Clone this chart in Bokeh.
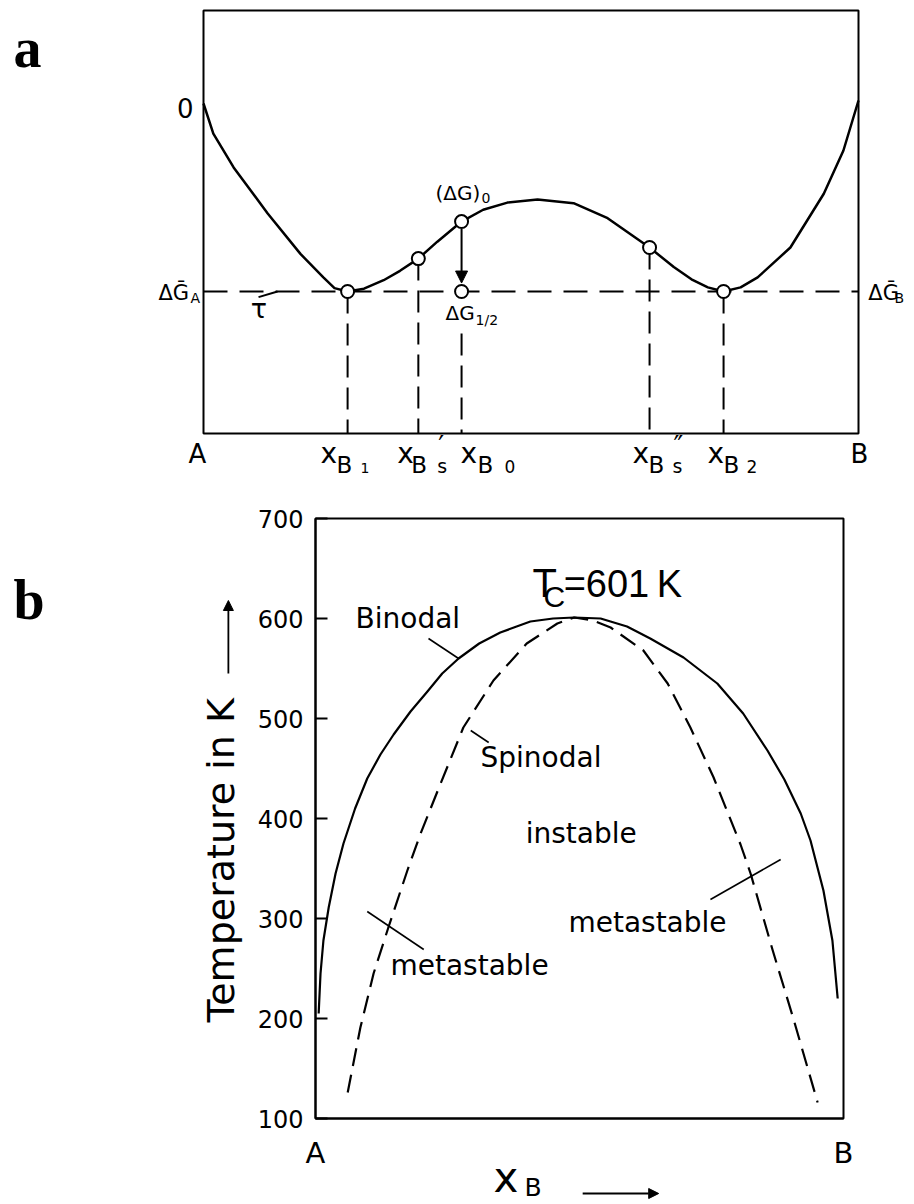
from bokeh.plotting import figure
from bokeh.models import Range1d, Label, Arrow, NormalHead, FixedTicker, LinearAxis
from bokeh.layouts import column
from bokeh.embed import file_html
from bokeh.resources import INLINE

FONT = "DejaVu Sans"
SERIF = "Liberation Serif"
NARROW = "Liberation Sans"

# ---------------- panel a: free enthalpy of mixing vs composition ----------------
g_x = [0.000, 0.015, 0.046, 0.098, 0.148, 0.183, 0.200, 0.220, 0.245, 0.275,
       0.300, 0.328, 0.357, 0.394, 0.427, 0.464, 0.510, 0.565, 0.617, 0.681,
       0.718, 0.745, 0.770, 0.794, 0.820, 0.846, 0.896, 0.947, 0.977, 1.000]
g_val = [0.000, -0.160, -0.340, -0.585, -0.800, -0.925, -0.982, -1.000, -0.985, -0.940,
         -0.890, -0.825, -0.735, -0.628, -0.565, -0.527, -0.510, -0.530, -0.610, -0.766,
         -0.870, -0.935, -0.978, -1.000, -0.978, -0.925, -0.766, -0.480, -0.250, 0.016]

g_tangent = -1.0          # common tangent level (ΔḠA = ΔḠB)
g_box = (-1.755, 0.495)   # vertical extent of the diagram box

# marked compositions: xB1, xB's, xB0, ΔG1/2, xB''s, xB2
pt_x = [0.220, 0.328, 0.394, 0.394, 0.681, 0.794]
pt_g = [-1.000, -0.825, -0.628, -1.000, -0.766, -1.000]

# dashed drop lines to the composition axis
drop_x = [0.220, 0.328, 0.394, 0.681, 0.794]
drop_top = [-1.000, -0.825, -1.223, -0.766, -1.000]

# ---------------- panel b: miscibility gap ----------------
bin_x = [0.006, 0.0095, 0.015, 0.025, 0.038, 0.053, 0.075, 0.098, 0.123, 0.148,
         0.180, 0.212, 0.240, 0.271, 0.310, 0.350, 0.407, 0.450, 0.490, 0.540,
         0.590, 0.634, 0.697, 0.761, 0.810, 0.856, 0.888, 0.919, 0.9375, 0.962,
         0.979, 0.989]
bin_t = [205, 245, 278, 311, 345, 375, 410, 440, 464, 484,
         507, 527, 545, 560, 575, 586, 597, 600, 601, 600,
         592, 580, 561, 535, 505, 468, 439, 405, 378, 328,
         278, 220]

spin_x = [0.061, 0.085, 0.110, 0.138, 0.174, 0.199, 0.237, 0.280, 0.337, 0.400,
          0.458, 0.490, 0.525, 0.559, 0.621, 0.667, 0.710, 0.754, 0.805, 0.824,
          0.866, 0.905, 0.951]
spin_t = [126, 191, 245, 291, 348, 385, 435, 491, 538, 575,
          595, 601, 598, 591, 568, 535, 491, 441, 374, 345,
          268, 200, 116]

t_ticks = [100, 200, 300, 400, 500, 600, 700]
t_crit = 601

# pixels per data unit on the vertical scales (used to place text baselines)
PPU_A = 188.0
PPU_B = 1.0


def txt(p, ppu, x, y, text, size, dx=0, align="left", font=FONT, style="normal"):
    # y is the intended glyph baseline; lift by the renderer's baseline drop
    p.add_layout(Label(x=x, y=y + 0.36 * size / ppu, x_offset=dx, text=text,
                       text_font=font, text_font_size=f"{size}px",
                       text_font_style=style, text_align=align,
                       text_baseline="alphabetic", text_color="black"))


def bare_figure(w, h, xr, yr):
    p = figure(width=w, height=h, output_backend="svg", toolbar_location=None,
               x_range=Range1d(*xr), y_range=Range1d(*yr),
               x_axis_location=None, y_axis_location=None,
               min_border_left=0, min_border_right=0,
               min_border_top=0, min_border_bottom=0)
    p.grid.visible = False
    p.outline_line_color = None
    p.background_fill_color = "white"
    p.border_fill_color = "white"
    return p


def head(size=10):
    return NormalHead(size=size, fill_color="black", line_color="black")


# ---------- figure a ----------
# the plotting area spans the whole canvas; the diagram box covers x 0..1
pa = bare_figure(914, 490, (-203 / 655, 711 / 655), (-2.0585, 0.5479))

pa.quad(left=0, right=1, bottom=g_box[0], top=g_box[1], fill_color=None,
        line_color="black", line_width=2)
pa.line([0, 1], [g_tangent, g_tangent], line_color="black", line_width=2,
        line_dash="24 12")
pa.segment(x0=drop_x, y0=drop_top, x1=drop_x, y1=[g_box[0]] * len(drop_x),
           line_color="black", line_width=2, line_dash="22 10")
pa.line(g_x, g_val, line_color="black", line_width=2.5, line_join="round")
# arrow from (ΔG)0 down to the tangent
pa.add_layout(Arrow(end=head(12), x_start=pt_x[2], y_start=pt_g[2] - 0.04,
                    x_end=pt_x[3], y_end=pt_g[3] + 0.045,
                    line_color="black", line_width=2))
# small tick of the tangent label τ
pa.line([0.084, 0.113], [-1.03, -1.0], line_color="black", line_width=2)
pa.scatter(pt_x, pt_g, size=13, fill_color="white", line_color="black", line_width=2)

txt(pa, PPU_A, -0.29, 0.186, "a", 56, font=SERIF, style="bold")
txt(pa, PPU_A, -0.0153, -0.0745, "0", 26, align="right")
txt(pa, PPU_A, -0.022, -1.048, "ΔḠ", 21, align="right")
txt(pa, PPU_A, -0.020, -1.060, "A", 14)
txt(pa, PPU_A, 1.015, -1.048, "ΔḠ", 21)
txt(pa, PPU_A, 1.055, -1.060, "B", 14)
txt(pa, PPU_A, 0.072, -1.140, "τ", 27)
txt(pa, PPU_A, pt_x[2], -0.516, "(ΔG)", 20, dx=-26)
txt(pa, PPU_A, pt_x[2], -0.532, "0", 14, dx=20)
txt(pa, PPU_A, pt_x[3], -1.154, "ΔG", 20, dx=-16)
txt(pa, PPU_A, pt_x[3], -1.181, "1/2", 14, dx=14)

base_x, base_b, base_s, base_p = -1.915, -1.968, -1.963, -1.870
txt(pa, PPU_A, 0.0, base_x, "A", 26, dx=-6, align="center")
txt(pa, PPU_A, 1.0, base_x, "B", 26, dx=1, align="center")
# composition labels:
# (position, x offset, B offset, subscript offset, subscript, subscript size, prime)
for xp, ox, ob, os_, sub, ssz, prime in [
        (pt_x[0], -27, -11, 13, "1", 14, ""),
        (pt_x[1], -21, -7, 19, "s", 19, "′"),
        (pt_x[2], -1, 16, 43, "0", 17, ""),
        (pt_x[4], -17, -1, 23, "s", 19, "″"),
        (pt_x[5], -16, 0, 23, "2", 17, "")]:
    txt(pa, PPU_A, xp, base_x, "x", 28, dx=ox)
    txt(pa, PPU_A, xp, base_b, "B", 23, dx=ob)
    txt(pa, PPU_A, xp, base_s, sub, ssz, dx=os_)
    if prime:
        txt(pa, PPU_A, xp, base_p, prime, 26, dx=os_ + 1)

# ---------- figure b ----------
pb = bare_figure(914, 714, (-315 / 528, 599 / 528), (14, 728))

pb.quad(left=0, right=1, bottom=t_ticks[0], top=t_ticks[-1], fill_color=None,
        line_color="black", line_width=2)

ya = LinearAxis(fixed_location=0, bounds=(t_ticks[0], t_ticks[-1]),
                ticker=FixedTicker(ticks=t_ticks))
ya.major_tick_in = 12
ya.major_tick_out = 0
ya.minor_tick_line_color = None
ya.axis_line_width = 2
ya.major_tick_line_width = 2
ya.major_label_standoff = 12
ya.major_label_text_font = FONT
ya.major_label_text_font_size = "24px"
ya.major_label_text_color = "black"
# trailing spaces leave room for the direction arrow drawn after the label
ya.axis_label = "Temperature in K\u2003\u2003\u2009"
ya.axis_label_text_font = FONT
ya.axis_label_text_font_size = "38px"
ya.axis_label_text_font_style = "normal"
ya.axis_label_text_color = "black"
ya.axis_label_standoff = 12
pb.add_layout(ya, "left")

xa = LinearAxis(fixed_location=t_ticks[0], bounds=(0, 1),
                ticker=FixedTicker(ticks=[0, 1]))
xa.major_label_overrides = {0: "A", 1: "B"}
xa.major_tick_in = 0
xa.major_tick_out = 0
xa.minor_tick_line_color = None
xa.axis_line_width = 2
xa.major_label_standoff = 17
xa.major_label_text_font = FONT
xa.major_label_text_font_size = "29px"
xa.major_label_text_color = "black"
pb.add_layout(xa, "below")

pb.line(bin_x, bin_t, line_color="black", line_width=2.2, line_join="round")
pb.line(spin_x, spin_t, line_color="black", line_width=2.2, line_dash="18 9",
        line_join="round")

# leader lines for the labels
lead_x0 = [0.214, 0.294, 0.098, 0.748]
lead_y0 = [580, 488, 307, 319]
lead_x1 = [0.271, 0.328, 0.205, 0.881]
lead_y1 = [560, 476, 269, 359]
pb.segment(x0=lead_x0, y0=lead_y0, x1=lead_x1, y1=lead_y1,
           line_color="black", line_width=1.6)

txt(pb, PPU_B, 0.0758, 590, "Binodal", 28)
txt(pb, PPU_B, 0.3125, 451, "Spinodal", 28)
txt(pb, PPU_B, 0.398, 375, "instable", 28)
txt(pb, PPU_B, 0.142, 243, "metastable", 28)
txt(pb, PPU_B, 0.479, 286, "metastable", 28)
txt(pb, PPU_B, 0.411, t_crit + 20, "T", 40, font=NARROW)
txt(pb, PPU_B, 0.432, t_crit + 10, "C", 30, font=NARROW)
txt(pb, PPU_B, 0.470, t_crit + 20, f"={t_crit}\u2009K", 38, font=NARROW)
txt(pb, PPU_B, -0.572, 598, "b", 56, font=SERIF, style="bold")

# composition axis title and direction arrows
txt(pb, PPU_B, 0.337, 26, "x", 42)
txt(pb, PPU_B, 0.396, 22, "B", 25)
pb.add_layout(Arrow(end=head(10), x_start=0.506, y_start=25, x_end=0.650, y_end=25,
                    line_color="black", line_width=1.8))
pb.add_layout(Arrow(end=head(10), x_start=-0.165, y_start=545, x_end=-0.165, y_end=618,
                    line_color="black", line_width=1.8))

page = column(pa, pb)
open("out.html", "w").write(file_html(page, INLINE))
